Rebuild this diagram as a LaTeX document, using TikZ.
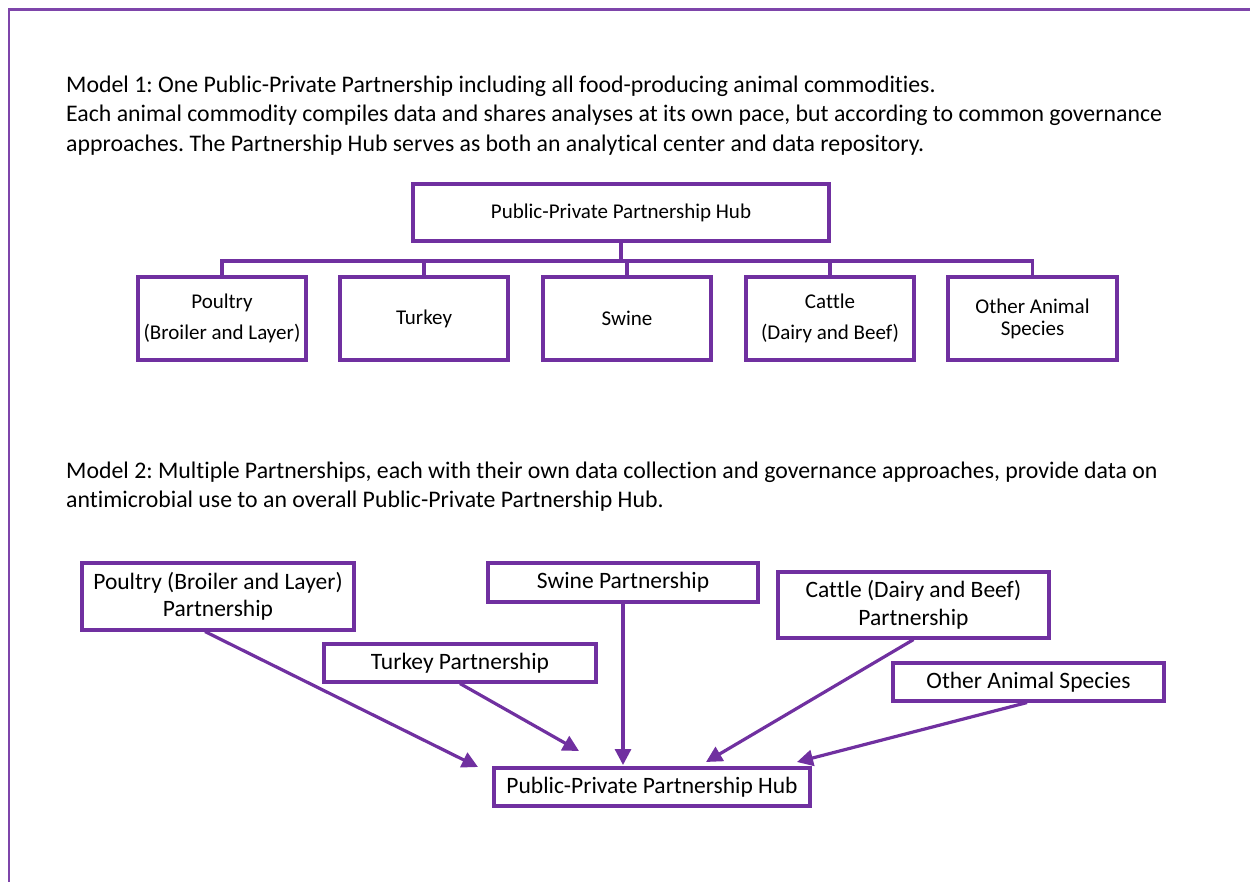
\documentclass[tikz,border=0pt]{standalone}
\usepackage{fontspec}
\setmainfont{Carlito}[Ligatures=NoCommon]
\usetikzlibrary{arrows.meta}
\definecolor{pur}{HTML}{7030A0}
\frenchspacing
\tikzset{
  box/.style={draw=pur, line width=3.1pt, inner sep=0pt, align=center, text=black},
  boxa/.style={box, font=\fontsize{21}{24}\selectfont, minimum height=83pt, minimum width=168pt},
  boxb/.style={box, font=\fontsize{23.5}{27.5}\selectfont, minimum width=271pt},
  conn/.style={draw=pur, line width=3.1pt},
  arr/.style={draw=pur, line width=3.2pt, -{Triangle[length=16pt,width=16pt]}},
  head/.style={anchor=base west, inner sep=0pt, align=left, font=\fontsize{23.8}{29.5}\selectfont}
}
\begin{document}
\begin{tikzpicture}[x=1pt, y=-1pt]
\useasboundingbox (0,0) rectangle (1250,881);
\draw[draw=pur!90, line width=2.4pt] (9,9.5) rectangle (1270,900);

\node[head] (h1) at (66,151) {Model 1: One Public-Private Partnership including all food-producing animal commodities.\\
Each animal commodity compiles data and shares analyses at its own pace, but according to common governance\\
approaches. The Partnership Hub serves as both an analytical center and data repository.};

\node[box, font=\fontsize{21}{24}\selectfont, minimum width=416pt, minimum height=57pt] (hub1) at (621,212.5) {Public-Private Partnership Hub};
\node[boxa] (p1) at (222,318.5) {Poultry\\[7pt](Broiler and Layer)};
\node[boxa] (t1) at (424,318.5) {Turkey};
\node[boxa] (s1) at (627,318.5) {Swine};
\node[boxa] (c1) at (830,318.5) {Cattle\\[7pt](Dairy and Beef)};
\node[boxa, minimum width=169pt] (o1) at (1032.5,318.5) {Other Animal\\[-2pt]Species};

\coordinate (bus) at (621,261);
\draw[conn] (hub1.south) -- (bus);
\draw[conn] (p1.north) |- (bus) -| (o1.north);
\draw[conn] (t1.north) -- (t1.north |- bus);
\draw[conn] (s1.north) -- (s1.north |- bus);
\draw[conn] (c1.north) -- (c1.north |- bus);

\node[head] (h2) at (66,507.5) {Model 2: Multiple Partnerships, each with their own data collection and governance approaches, provide data on\\
antimicrobial use to an overall Public-Private Partnership Hub.};

\node[boxb, minimum width=272pt, minimum height=67pt] (pp) at (218,596.5) {Poultry (Broiler and Layer)\\Partnership};
\node[boxb, minimum width=270pt, minimum height=39pt] (sp) at (623,582.5) {Swine Partnership};
\node[boxb, minimum height=66pt] (cp) at (913.5,605) {Cattle (Dairy and Beef)\\Partnership};
\node[boxb, minimum width=272pt, minimum height=38pt] (tp) at (460,663) {Turkey Partnership};
\node[boxb, minimum height=38pt] (op) at (1028.5,682) {Other Animal Species};
\node[boxb, minimum width=316pt, minimum height=38pt] (hub2) at (652,787) {Public-Private Partnership Hub};

\coordinate (a1) at (478,767);
\coordinate (a2) at (579,751);
\coordinate (a3) at (623,765);
\coordinate (a4) at (706,762);
\coordinate (a5) at (797,762);

\draw[arr] ([xshift=-13pt]pp.south) -- (a1);
\draw[arr] (tp.south) -- (a2);
\draw[arr] (sp.south) -- (a3);
\draw[arr] (cp.south) -- (a4);
\draw[arr] ([xshift=-1.5pt]op.south) -- (a5);
\end{tikzpicture}
\end{document}
